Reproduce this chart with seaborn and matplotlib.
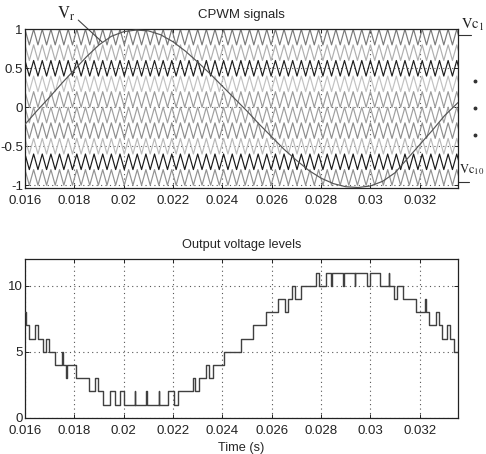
import numpy as np
import pandas as pd
import seaborn as sns
import matplotlib
matplotlib.use("Agg")
import matplotlib.pyplot as plt

# ---------------- data ----------------
t_start = 0.016
t_end = 0.03355

# carriers: top of each band (band height 0.2), carrier period
carrier_names = ["Vc1", "Vc2", "Vc3", "Vc4", "Vc5", "Vc6", "Vc7", "Vc8", "Vc9", "Vc10"]
carrier_tops = [1.0, 0.8, 0.6, 0.4, 0.2, 0.0, -0.2, -0.4, -0.6, -0.8]
carrier_height = 0.2
carrier_period = 0.00035
carrier_colors = ["#7a7a7a", "#b0b0b0", "#1e1e1e", "#c2c2c2", "#9c9c9c",
                  "#a0a0a0", "#8e8e8e", "#bababa", "#1a1a1a", "#929292"]

# reference signal samples
vr_t = [0.0160, 0.0165, 0.0170, 0.0175, 0.0180, 0.0185, 0.0190, 0.0195, 0.0200,
        0.0205, 0.0210, 0.0215, 0.0220, 0.0225, 0.0230, 0.0235, 0.0240, 0.0245,
        0.0250, 0.0255, 0.0260, 0.0265, 0.0270, 0.0275, 0.0280, 0.0285, 0.0290,
        0.0295, 0.0300, 0.0305, 0.0310, 0.0315, 0.0320, 0.0325, 0.0330, 0.03355]
vr_v = [-0.22, -0.04, 0.13, 0.31, 0.48, 0.65, 0.80, 0.91, 0.97,
        0.99, 0.98, 0.93, 0.84, 0.72, 0.58, 0.43, 0.27, 0.11,
        -0.05, -0.22, -0.38, -0.54, -0.68, -0.81, -0.91, -0.98, -1.02,
        -1.03, -1.01, -0.95, -0.84, -0.66, -0.48, -0.30, -0.11, 0.06]

# output voltage level (step changes)
step_t = [0.01600, 0.01603, 0.01618, 0.01639, 0.01653, 0.01672, 0.01685, 0.01699,
          0.01723, 0.01748, 0.01753, 0.01768, 0.01772, 0.01805, 0.01859, 0.01883,
          0.01897, 0.01916, 0.01943, 0.01965, 0.01986, 0.02002, 0.02044, 0.02047,
          0.02092, 0.02095, 0.02142, 0.02145, 0.02181, 0.02202, 0.02222, 0.02282,
          0.02291, 0.02307, 0.02335, 0.02345, 0.02361, 0.02405, 0.02474, 0.02526,
          0.02576, 0.02627, 0.02653, 0.02666, 0.02684, 0.02695, 0.02718, 0.02779,
          0.02792, 0.02819, 0.02841, 0.02844, 0.02889, 0.02892, 0.02936, 0.02939,
          0.02987, 0.02998, 0.03040, 0.03074, 0.03077, 0.03097, 0.03108, 0.03132,
          0.03186, 0.03223, 0.03226, 0.03239, 0.03267, 0.03280, 0.03290, 0.03311,
          0.03324, 0.03338, 0.03355]
step_level = [8, 7, 6, 7, 6, 5, 6, 5,
              4, 5, 4, 3, 4, 3, 2, 3,
              2, 1, 2, 1, 2, 1, 2, 1,
              2, 1, 2, 1, 2, 1, 2, 3,
              2, 3, 4, 3, 4, 5, 6, 7,
              8, 9, 8, 9, 10, 9, 10, 11,
              10, 11, 10, 11, 10, 11, 10, 11,
              10, 11, 10, 11, 10, 9, 10, 9,
              8, 9, 8, 7, 8, 7, 6, 7,
              6, 5, 5]

xticks = [0.016, 0.018, 0.02, 0.022, 0.024, 0.026, 0.028, 0.03, 0.032]
xticklabels = ["0.016", "0.018", "0.02", "0.022", "0.024", "0.026", "0.028", "0.03", "0.032"]
top_yticks = [-1, -0.5, 0, 0.5, 1]
top_yticklabels = ["-1", "-0.5", "0", "0.5", "1"]
bot_yticks = [0, 5, 10]

# ---------------- build tables ----------------
n_per = int(np.ceil((t_end - t_start) / carrier_period)) + 1
rows = []
for name, top in zip(carrier_names, carrier_tops):
    for k in range(n_per):
        rows.append((name, t_start + k * carrier_period, top))
        rows.append((name, t_start + (k + 0.5) * carrier_period, top - carrier_height))
carriers = pd.DataFrame(rows, columns=["carrier", "t", "v"])
carriers = carriers[carriers["t"] <= t_end + carrier_period]

vr = pd.DataFrame({"t": vr_t, "v": vr_v})
out = pd.DataFrame({"t": step_t, "level": step_level})

# ---------------- style ----------------
sns.set_theme(style="white")
plt.rcParams["font.family"] = ["Liberation Sans", "DejaVu Sans"]
plt.rcParams["mathtext.fontset"] = "stix"

fig = plt.figure(figsize=(4.86, 4.54), dpi=100, facecolor="white")
W, H = 486, 454
ax1 = fig.add_axes([25 / W, 1 - 188.3 / H, 433 / W, 159 / H])
ax2 = fig.add_axes([25 / W, 1 - 417.7 / H, 433 / W, 158.4 / H])

grid_kw = dict(color="#555555", linestyle=(0, (1, 3)), linewidth=0.8)

# ---- top panel ----
sns.lineplot(data=carriers, x="t", y="v", hue="carrier", palette=carrier_colors,
             hue_order=carrier_names, estimator=None, sort=False, legend=False,
             linewidth=0.85, ax=ax1, zorder=2)
sns.lineplot(data=vr, x="t", y="v", color="#555555", estimator=None, sort=False,
             linewidth=0.85, ax=ax1, zorder=3)
ax1.set_xlim(t_start, t_end)
ax1.set_ylim(-1.04, 1.0)
ax1.set_xticks(xticks)
ax1.set_xticklabels(xticklabels)
ax1.set_yticks(top_yticks)
ax1.set_yticklabels(top_yticklabels)
ax1.set_title("CPWM signals", fontsize=9.5, pad=8)
ax1.set_xlabel("")
ax1.set_ylabel("")
ax1.grid(True, **grid_kw)
ax1.set_axisbelow(True)

# annotations
ax1.text(0.095, 1.10, r"$\mathrm{V_r}$", transform=ax1.transAxes, fontsize=12,
         ha="center", va="center", color="#222222")
ax1.plot([0.123, 0.178], [1.058, 0.92], transform=ax1.transAxes, color="#444444",
         linewidth=0.8, clip_on=False)
ax1.text(1.008, 1.03, r"$\mathrm{Vc_1}$", transform=ax1.transAxes, fontsize=10.5,
         ha="left", va="center", color="#222222")
ax1.plot([1.0, 1.03], [0.964, 0.964], transform=ax1.transAxes, color="#333333",
         linewidth=0.8, clip_on=False)
ax1.text(1.003, 0.12, r"$\mathrm{Vc_{10}}$", transform=ax1.transAxes, fontsize=9,
         ha="left", va="center", color="#222222")
ax1.plot([1.0, 1.025], [0.042, 0.042], transform=ax1.transAxes, color="#333333",
         linewidth=0.8, clip_on=False)
ax1.plot([1.04, 1.04, 1.04], [0.675, 0.505, 0.335], transform=ax1.transAxes,
         linestyle="none", marker="o", markersize=1.8, color="#333333", clip_on=False)

# ---- bottom panel ----
sns.lineplot(data=out, x="t", y="level", color="#404040", estimator=None, sort=False,
             drawstyle="steps-post", linewidth=1.0, ax=ax2, zorder=3)
ax2.set_xlim(t_start, t_end)
ax2.set_ylim(0, 12)
ax2.set_xticks(xticks)
ax2.set_xticklabels(xticklabels)
ax2.set_yticks(bot_yticks)
ax2.set_title("Output voltage levels", fontsize=9.2, pad=8)
ax2.set_xlabel("Time (s)", fontsize=9.2, labelpad=4)
ax2.set_ylabel("")
ax2.grid(True, **grid_kw)
ax2.set_axisbelow(True)

for ax in (ax1, ax2):
    for sp in ax.spines.values():
        sp.set_visible(True)
        sp.set_color("#222222")
        sp.set_linewidth(0.9)
    ax.tick_params(axis="both", which="both", direction="in", length=3, width=0.7,
                   colors="#222222", labelsize=9.5, top=True, right=True,
                   bottom=True, left=True)
    ax.tick_params(axis="x", pad=5)
    ax.tick_params(axis="y", pad=1.5)
    ax.set_facecolor("white")

fig.savefig("out.png", dpi=100, facecolor="white")
